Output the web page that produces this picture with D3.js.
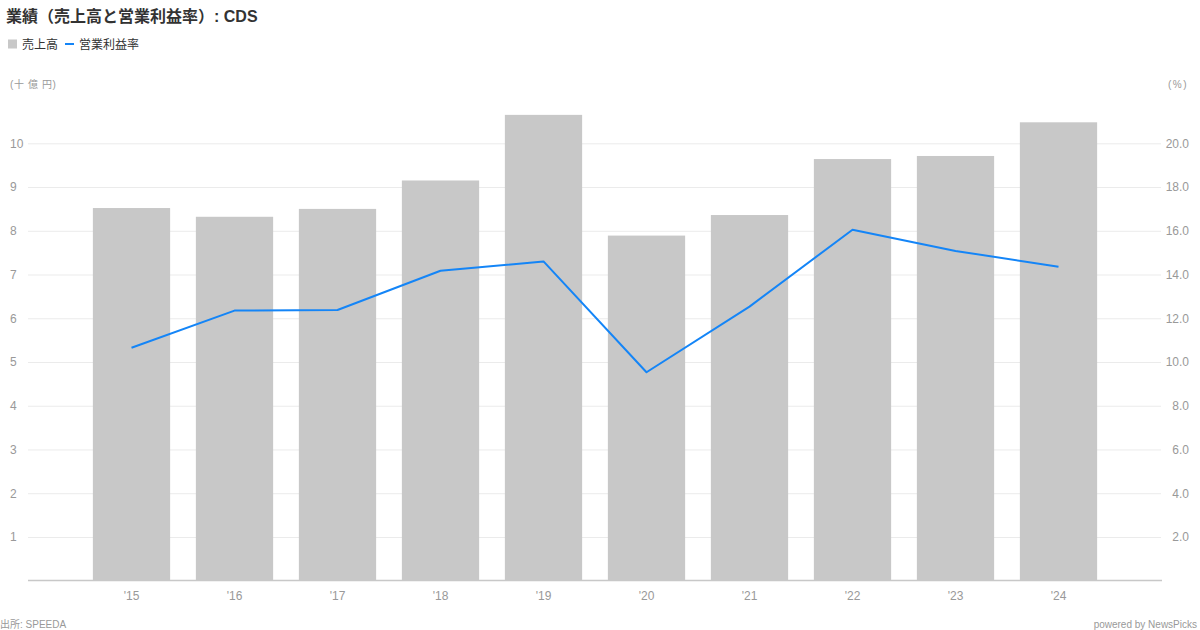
<!DOCTYPE html>
<html><head><meta charset="utf-8">
<script src="https://cdn.jsdelivr.net/npm/d3@7"></script>
<style>
body{margin:0;background:#fff;}
svg text{font-family:"Liberation Sans","Noto Sans CJK JP",Arial,sans-serif;}
</style></head>
<body><svg id="c" width="1200" height="630"></svg>
<script>
const categories = ["'15","'16","'17","'18","'19","'20","'21","'22","'23","'24"];
const sales = [8.52, 8.32, 8.50, 9.15, 10.65, 7.89, 8.36, 9.64, 9.71, 10.48];
const margin = [10.65, 12.35, 12.38, 14.17, 14.60, 9.53, 12.53, 16.05, 15.08, 14.36];
const leftTicks = [1,2,3,4,5,6,7,8,9,10];
const rightTicks = [2,4,6,8,10,12,14,16,18,20];

const svg = d3.select("#c");
const cjk = '"Liberation Sans","Noto Sans CJK JP",sans-serif';

const x = d3.scaleBand().domain(categories).range([80,1110]).paddingInner(0.25).paddingOuter(0.125);
const yL = d3.scaleLinear().domain([0,10]).range([580.7,143.3]);
const yR = d3.scaleLinear().domain([0,20]).range([580.7,143.3]);

// title
svg.append("text").attr("x",6).attr("y",22).attr("font-size",16).attr("font-weight","bold")
  .attr("fill","#333").style("font-family",cjk).text("業績（売上高と営業利益率）: CDS");

// legend
svg.append("rect").attr("x",8).attr("y",39.5).attr("width",9).attr("height",9).attr("fill","#c8c8c8");
svg.append("text").attr("x",22).attr("y",49).attr("font-size",12).attr("fill","#333").text("売上高");
svg.append("rect").attr("x",65).attr("y",43).attr("width",9).attr("height",2).attr("fill","#1485f7");
svg.append("text").attr("x",79).attr("y",49).attr("font-size",12).attr("fill","#333").text("営業利益率");

// unit labels
svg.append("text").attr("x",10).attr("y",88).attr("font-size",10).attr("fill","#999").attr("letter-spacing","0.6px").text("(十 億 円)");
svg.append("text").attr("x",1188).attr("y",88).attr("font-size",10).attr("fill","#999").attr("text-anchor","end").attr("letter-spacing","1.5px").text("(%)");

// gridlines
svg.append("g").selectAll("line").data(leftTicks).join("line")
  .attr("x1",28).attr("x2",1161).attr("y1",d=>yL(d)+0.5).attr("y2",d=>yL(d)+0.5)
  .attr("stroke","#ebebeb").attr("stroke-width",1);

// left axis labels
const gl = svg.append("g").attr("transform","translate(10,0)")
  .call(d3.axisLeft(yL).tickValues(leftTicks).tickSize(0).tickFormat(d3.format("d")));
gl.select(".domain").remove();
gl.selectAll("text").attr("text-anchor","start").attr("x",0).attr("font-size",12).attr("fill","#999")
  .style("font-family",cjk);

// right axis labels
const gr = svg.append("g").attr("transform","translate(1189,0)")
  .call(d3.axisRight(yR).tickValues(rightTicks).tickSize(0).tickFormat(d3.format(".1f")));
gr.select(".domain").remove();
gr.selectAll("text").attr("text-anchor","end").attr("x",0).attr("font-size",12).attr("fill","#999")
  .style("font-family",cjk);

// bars
svg.append("g").selectAll("rect").data(categories).join("rect")
  .attr("x",d=>x(d)).attr("width",x.bandwidth())
  .attr("y",(d,i)=>yL(sales[i])).attr("height",(d,i)=>yL(0)-yL(sales[i]))
  .attr("fill","#c8c8c8");

// baseline
svg.append("line").attr("x1",28).attr("x2",1162).attr("y1",580.5).attr("y2",580.5)
  .attr("stroke","#c8c8c8").attr("stroke-width",1.5);

// x axis labels
const gx = svg.append("g").attr("transform","translate(0,581)")
  .call(d3.axisBottom(x).tickSize(0).tickPadding(10));
gx.select(".domain").remove();
gx.selectAll("text").attr("font-size",12).attr("fill","#999").style("font-family",cjk);

// line
const line = d3.line().x((d,i)=>x(categories[i])+x.bandwidth()/2).y(d=>yR(d));
svg.append("path").datum(margin).attr("d",line).attr("fill","none")
  .attr("stroke","#1485f7").attr("stroke-width",2).attr("stroke-linejoin","round");

// footer
svg.append("text").attr("x",0).attr("y",628).attr("font-size",10).attr("fill","#999").text("出所: SPEEDA");
svg.append("text").attr("x",1197).attr("y",628).attr("font-size",10).attr("fill","#999").attr("text-anchor","end").text("powered by NewsPicks");
</script></body></html>
